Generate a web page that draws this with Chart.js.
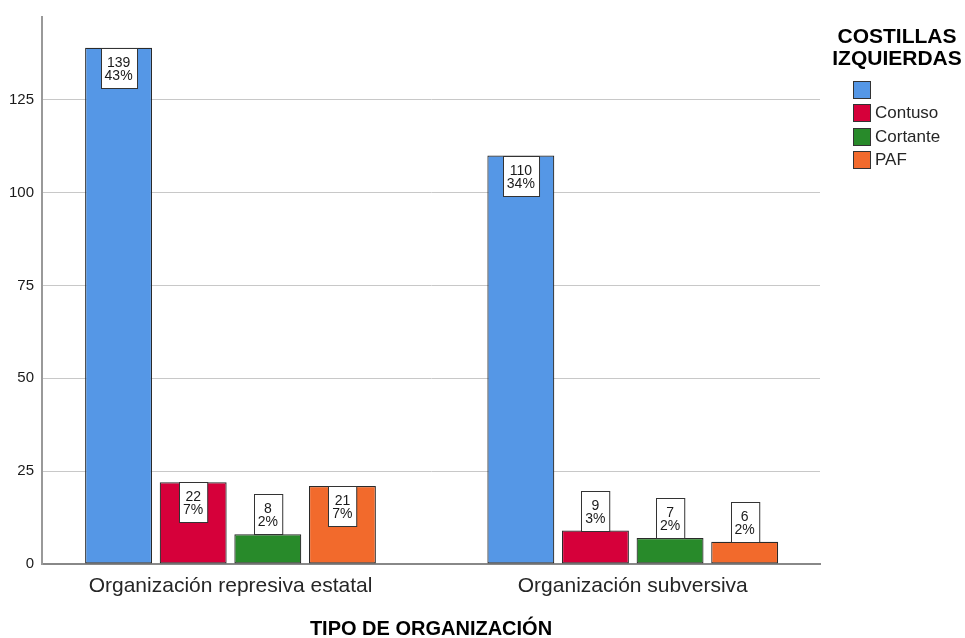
<!DOCTYPE html>
<html>
<head>
<meta charset="utf-8">
<script src="https://cdn.jsdelivr.net/npm/chart.js@4"></script>
<style>
  html, body { margin: 0; padding: 0; background: #fff; }
  #wrap { width: 965px; height: 638px; }
</style>
</head>
<body>
<div id="wrap"><canvas id="chart" width="965" height="638"></canvas></div>
<script>
// categories and series
var categories = ['Organización represiva estatal', 'Organización subversiva'];
var seriesNames = ['', 'Contuso', 'Cortante', 'PAF'];
var seriesColors = ['#5597e6', '#d6003a', '#288a2a', '#f26a2c'];
var sinDato = [139, 110];
var contuso = [22, 9];
var cortante = [8, 7];
var paf = [21, 6];
var sinDatoPct = [43, 34];
var contusoPct = [7, 3];
var cortantePct = [2, 2];
var pafPct = [7, 2];
var yTicks = [0, 25, 50, 75, 100, 125];

var FONT = '"Liberation Sans", Arial, sans-serif';
var seriesValues = [sinDato, contuso, cortante, paf];
var seriesPct = [sinDatoPct, contusoPct, cortantePct, pafPct];

var datasets = seriesValues.map(function (vals, i) {
    return {
        label: seriesNames[i],
        data: vals.map(function (v, j) { return { x: j, y: v }; }),
        pct: seriesPct[i],
        backgroundColor: seriesColors[i],
        borderColor: '#2a2a2a',
        borderWidth: 1.2,
        borderSkipped: false,
        categoryPercentage: 0.742,
        barPercentage: 0.897
    };
});

// white count / percent boxes on each bar
var boxLabels = {
    id: 'boxLabels',
    afterDatasetsDraw: function (chart) {
        var ctx = chart.ctx;
        ctx.save();
        ctx.font = '14px ' + FONT;
        ctx.textAlign = 'center';
        ctx.textBaseline = 'middle';
        chart.data.datasets.forEach(function (ds, i) {
            var meta = chart.getDatasetMeta(i);
            meta.data.forEach(function (bar, j) {
                var l1 = String(ds.data[j].y);
                var l2 = ds.pct[j] + '%';
                var w = Math.max(ctx.measureText(l1).width, ctx.measureText(l2).width) + 8;
                var h = 40;
                var top = (bar.base - bar.y >= h + 2) ? bar.y : bar.y - h;
                var left = Math.round(bar.x - w / 2) + 0.5;
                top = Math.round(top) + 0.5;
                ctx.fillStyle = '#fff';
                ctx.fillRect(left, top, w, h);
                ctx.strokeStyle = '#333';
                ctx.lineWidth = 1;
                ctx.strokeRect(left, top, w, h);
                ctx.fillStyle = '#1a1a1a';
                ctx.fillText(l1, bar.x, top + 14.5);
                ctx.fillText(l2, bar.x, top + 28);
            });
        });
        ctx.restore();
    }
};

// legend on the right
var sideLegend = {
    id: 'sideLegend',
    afterDraw: function (chart) {
        var ctx = chart.ctx;
        ctx.save();
        ctx.fillStyle = '#000';
        ctx.font = 'bold 21px ' + FONT;
        ctx.textAlign = 'center';
        ctx.textBaseline = 'alphabetic';
        ctx.fillText('COSTILLAS', 897, 43);
        ctx.fillText('IZQUIERDAS', 897, 65);
        ctx.font = '17px ' + FONT;
        ctx.textAlign = 'left';
        ctx.textBaseline = 'middle';
        chart.data.datasets.forEach(function (ds, i) {
            var y = 81 + i * 23.3;
            ctx.fillStyle = ds.backgroundColor;
            ctx.fillRect(853.5, Math.round(y) + 0.5, 17, 17);
            ctx.strokeStyle = '#333';
            ctx.lineWidth = 1;
            ctx.strokeRect(853.5, Math.round(y) + 0.5, 17, 17);
            ctx.fillStyle = '#262626';
            ctx.fillText(ds.label, 875, y + 9.5);
        });
        ctx.restore();
    }
};

var chart = new Chart(document.getElementById('chart').getContext('2d'), {
    type: 'bar',
    data: { datasets: datasets },
    plugins: [boxLabels, sideLegend],
    options: {
        responsive: false,
        animation: false,
        layout: { padding: { top: 15, right: 145, left: 0, bottom: 0 } },
        plugins: {
            legend: { display: false },
            tooltip: { enabled: false }
        },
        scales: {
            x: {
                type: 'linear',
                min: -0.4686,
                max: 1.4655,
                offset: false,
                afterBuildTicks: function (scale) {
                    scale.ticks = categories.map(function (c, i) { return { value: i }; });
                },
                afterFit: function (scale) { scale.height = 74; },
                grid: { display: false, drawTicks: false },
                border: { display: true, color: '#888', width: 2 },
                ticks: {
                    autoSkip: false,
                    maxRotation: 0,
                    padding: 10,
                    color: '#262626',
                    font: { family: FONT, size: 21 },
                    callback: function (v) { return categories[v]; }
                },
                title: {
                    display: true,
                    text: 'TIPO DE ORGANIZACIÓN',
                    color: '#000',
                    font: { family: FONT, size: 20, weight: 'bold' },
                    padding: { top: 0, bottom: -3 }
                }
            },
            y: {
                min: 0,
                max: 147.3,
                afterBuildTicks: function (scale) {
                    scale.ticks = yTicks.map(function (v) { return { value: v }; });
                },
                afterFit: function (scale) { scale.width = 42; },
                grid: { color: '#c8c8c8', lineWidth: 1, drawTicks: false },
                border: { display: true, color: '#999', width: 2 },
                ticks: {
                    padding: 8,
                    color: '#1a1a1a',
                    font: { family: FONT, size: 15 }
                }
            }
        }
    }
});
</script>
</body>
</html>
